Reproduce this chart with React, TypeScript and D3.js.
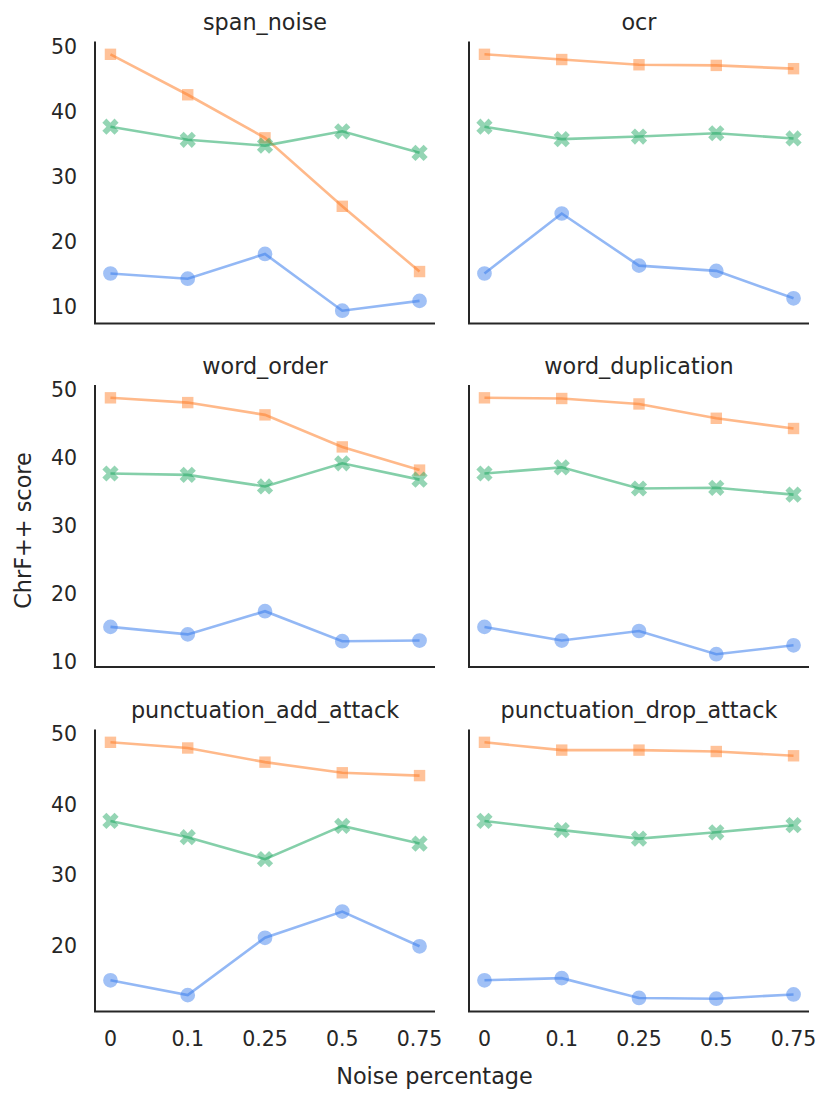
import * as d3 from "d3";

const NOISE = ["0", "0.1", "0.25", "0.5", "0.75"];
const ATTACKS = [
  "span_noise",
  "ocr",
  "word_order",
  "word_duplication",
  "punctuation_add_attack",
  "punctuation_drop_attack",
];

// one row per attack, one value per noise level
const circleScores = [
  [15.2, 14.4, 18.2, 9.5, 11.0],
  [15.2, 24.4, 16.4, 15.6, 11.4],
  [15.2, 14.1, 17.5, 13.1, 13.2],
  [15.2, 13.2, 14.6, 11.2, 12.5],
  [15.2, 13.1, 21.2, 24.9, 20.0],
  [15.2, 15.5, 12.7, 12.6, 13.2],
];
const squareScores = [
  [48.8, 42.6, 36.0, 25.5, 15.5],
  [48.8, 48.0, 47.2, 47.1, 46.6],
  [48.8, 48.1, 46.3, 41.6, 38.2],
  [48.8, 48.7, 47.9, 45.8, 44.3],
  [48.8, 48.0, 46.0, 44.5, 44.1],
  [48.8, 47.7, 47.7, 47.5, 46.9],
];
const crossScores = [
  [37.7, 35.7, 34.8, 37.0, 33.7],
  [37.7, 35.8, 36.2, 36.7, 35.9],
  [37.7, 37.5, 35.8, 39.2, 36.8],
  [37.7, 38.6, 35.5, 35.6, 34.6],
  [37.7, 35.4, 32.3, 37.0, 34.5],
  [37.7, 36.4, 35.2, 36.1, 37.1],
];
const Y_TICKS = [10, 20, 30, 40, 50];

const WIDTH = 830;
const HEIGHT = 1102;
const COL_X = [95, 469];
const PANEL_W = 340;
const ROW_Y = [41.5, 385, 729.5];
const PANEL_H = 282;
const FONT = "DejaVu Sans, sans-serif";
const INK = "#262626";

const SERIES = [
  { values: circleScores, color: "#3b7ded", shape: d3.symbolCircle, size: 170, rotate: 0 },
  { values: squareScores, color: "#ff7f2a", shape: d3.symbolSquare, size: 130, rotate: 0 },
  { values: crossScores, color: "#1fa862", shape: d3.symbolCross, size: 165, rotate: 45 },
];

function Panel({ index }: { index: number }) {
  const row = Math.floor(index / 2);
  const col = index % 2;
  const left = COL_X[col];
  const top = ROW_Y[row];

  // y is shared by the two panels of a row, 5% margins like matplotlib
  const rowVals = [row * 2, row * 2 + 1].flatMap((i) =>
    SERIES.flatMap((s) => s.values[i])
  );
  const [lo, hi] = d3.extent(rowVals) as [number, number];
  const pad = (hi - lo) * 0.05;
  const y = d3.scaleLinear().domain([lo - pad, hi + pad]).range([PANEL_H, 0]);

  // categorical x, 5% margin on each side (4 steps over 4.4 units)
  const x = d3
    .scaleLinear()
    .domain([-0.2, NOISE.length - 1 + 0.2])
    .range([0, PANEL_W]);

  const line = d3
    .line<number>()
    .x((_, i) => x(i))
    .y((d) => y(d));

  const ticks = Y_TICKS.filter((t) => t >= y.domain()[0] && t <= y.domain()[1]);
  const isBottom = row === 2;

  return (
    <g transform={`translate(${left},${top})`}>
      <text
        x={PANEL_W / 2}
        y={-11.5}
        textAnchor="middle"
        fontSize={22.3}
        fill={INK}
      >
        {ATTACKS[index]}
      </text>
      {SERIES.map((s, si) => (
        <g key={si}>
          <path
            d={line(s.values[index]) || ""}
            fill="none"
            stroke={s.color}
            strokeOpacity={0.55}
            strokeWidth={2.6}
          />
          {s.values[index].map((v, i) => (
            <path
              key={i}
              d={d3.symbol().type(s.shape).size(s.size)() || ""}
              transform={`translate(${x(i)},${y(v)}) rotate(${s.rotate})`}
              fill={s.color}
              fillOpacity={0.48}
            />
          ))}
        </g>
      ))}
      <path
        d={`M0,0V${PANEL_H}H${PANEL_W}`}
        fill="none"
        stroke={INK}
        strokeWidth={2}
      />
      {col === 0 &&
        ticks.map((t) => (
          <text
            key={t}
            x={-18}
            y={y(t)}
            textAnchor="end"
            dominantBaseline="central"
            fontSize={20.5}
            fill={INK}
          >
            {t}
          </text>
        ))}
      {isBottom &&
        NOISE.map((d, i) => (
          <text
            key={d}
            x={x(i)}
            y={PANEL_H + 34}
            textAnchor="middle"
            fontSize={20.5}
            fill={INK}
          >
            {d}
          </text>
        ))}
    </g>
  );
}

export default function App() {
  return (
    <div style={{ position: "absolute", left: 0, top: 0 }}>
      <svg
        width={WIDTH}
        height={HEIGHT}
        style={{ display: "block", background: "#fff", fontFamily: FONT }}
      >
        {ATTACKS.map((_, i) => (
          <Panel key={i} index={i} />
        ))}
        <text
          x={434.5}
          y={1083.5}
          textAnchor="middle"
          fontSize={22.4}
          fill={INK}
        >
          Noise percentage
        </text>
        <text
          transform="translate(31,530.5) rotate(-90)"
          textAnchor="middle"
          fontSize={22.4}
          fill={INK}
        >
          ChrF++ score
        </text>
      </svg>
    </div>
  );
}
